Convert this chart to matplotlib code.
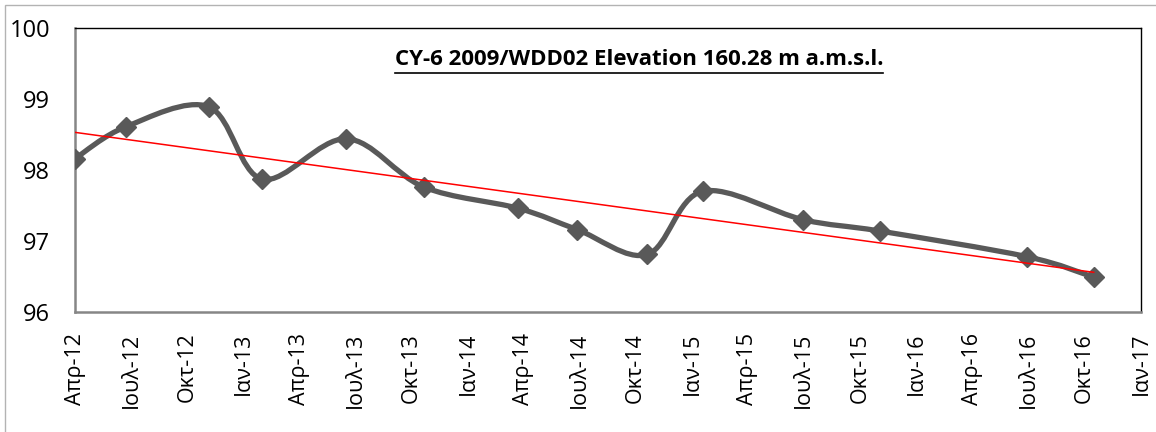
import numpy as np
import pandas as pd
import matplotlib
matplotlib.use("Agg")
import matplotlib.pyplot as plt
import matplotlib.dates as mdates
from matplotlib.path import Path
from matplotlib.patches import PathPatch, Rectangle

plt.rcParams["font.family"] = ["Open Sans", "DejaVu Sans"]

# measurement dates and water level values
dates = ["2012-04-01", "2012-06-23", "2012-11-05", "2013-01-31", "2013-06-17",
         "2013-10-21", "2014-03-24", "2014-06-28", "2014-10-20", "2015-01-18",
         "2015-07-01", "2015-11-03", "2016-06-29", "2016-10-16"]
levels = [98.16, 98.61, 98.89, 97.87, 98.44, 97.76, 97.46, 97.16, 96.81,
          97.70, 97.30, 97.14, 96.78, 96.49]

tick_dates = pd.date_range("2012-04-01", "2017-01-01", freq="QS")
tick_labels = ["Απρ-12", "Ιουλ-12", "Οκτ-12", "Ιαν-13", "Απρ-13", "Ιουλ-13",
               "Οκτ-13", "Ιαν-14", "Απρ-14", "Ιουλ-14", "Οκτ-14", "Ιαν-15",
               "Απρ-15", "Ιουλ-15", "Οκτ-15", "Ιαν-16", "Απρ-16", "Ιουλ-16",
               "Οκτ-16", "Ιαν-17"]

title = "CY-6 2009/WDD02 Elevation 160.28 m a.m.s.l."


def smooth_path(x, y):
    # excel-like smoothed line: cubic bezier through every point
    pts = np.column_stack([x, y])
    ext = np.vstack([pts[0], pts, pts[-1]])
    verts = [pts[0]]
    codes = [Path.MOVETO]
    for i in range(1, len(ext) - 2):
        p0, p1, p2, p3 = ext[i - 1], ext[i], ext[i + 1], ext[i + 2]
        c1 = p1 + (p2 - p0) / 6.0
        c2 = p2 - (p3 - p1) / 6.0
        verts += [c1, c2, p2]
        codes += [Path.CURVE4] * 3
    return Path(verts, codes)


def main():
    x = mdates.date2num(pd.to_datetime(dates))
    y = np.array(levels)

    fig = plt.figure(figsize=(11.56, 4.32), dpi=100)
    fig.patches.append(Rectangle((5 / 1156, -0.05), 1.1, 1 - 5 / 432 + 0.05,
                                 transform=fig.transFigure, fill=False,
                                 edgecolor="#b3b3b3", linewidth=1))
    ax = fig.add_axes([75 / 1156, 120 / 432, 1066 / 1156, 284 / 432])

    line = PathPatch(smooth_path(x, y), facecolor="none", edgecolor="#595959",
                     linewidth=3.8, capstyle="round", joinstyle="round")
    ax.add_patch(line)
    ax.plot(x, y, linestyle="none", marker="D", markersize=10,
            color="#595959", zorder=3)

    # linear trend line
    k, b = np.polyfit(x, y, 1)
    ax.plot([x[0], x[-1]], [k * x[0] + b, k * x[-1] + b], color="#ff0000",
            linewidth=1.1, zorder=4)

    ax.set_xlim(mdates.date2num(tick_dates[0]), mdates.date2num(tick_dates[-1]))
    ax.set_ylim(96, 100)
    ax.set_yticks([96, 97, 98, 99, 100])
    ax.set_xticks(mdates.date2num(tick_dates))
    ax.set_xticklabels(tick_labels, rotation=90)
    ax.tick_params(axis="both", length=0, colors="black")
    ax.tick_params(axis="y", pad=18, labelsize=17)
    ax.tick_params(axis="x", pad=15, labelsize=15.5)

    for side in ["top", "right"]:
        ax.spines[side].set_color("black")
        ax.spines[side].set_linewidth(1)
    for side in ["left", "bottom"]:
        ax.spines[side].set_color("#868686")
        ax.spines[side].set_linewidth(1.8)

    ax.text(0.529, 0.89, title, transform=ax.transAxes, ha="center",
            va="center", fontsize=16, fontweight="bold")
    ax.plot([0.300, 0.758], [0.842, 0.842], transform=ax.transAxes,
            color="black", linewidth=1.2)

    fig.savefig("out.png", dpi=100)
    plt.close(fig)


if __name__ == "__main__":
    main()
